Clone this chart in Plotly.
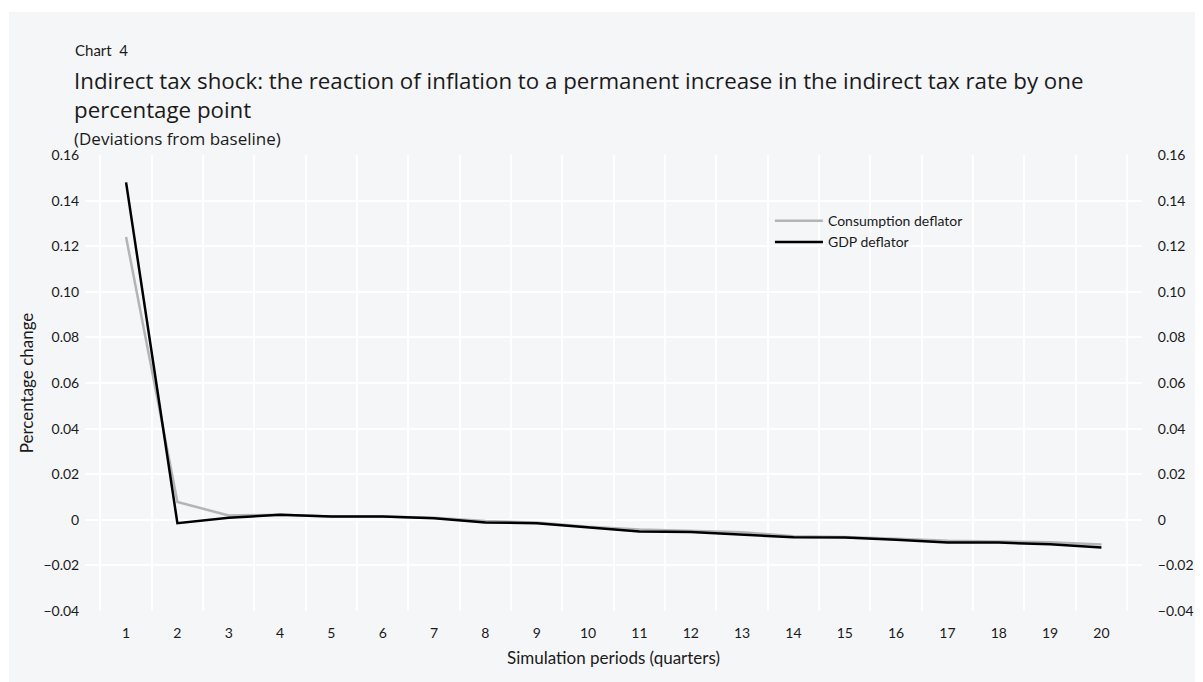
import plotly.graph_objects as go

# 데이터
periods = list(range(1, 21))
consumption_deflator = [0.124, 0.0078, 0.0019, 0.0022, 0.0015, 0.0015, 0.0009, -0.0005,
                        -0.0012, -0.0030, -0.0042, -0.0048, -0.0055, -0.0072, -0.0075,
                        -0.0083, -0.0092, -0.0095, -0.0098, -0.0108]
gdp_deflator = [0.148, -0.0015, 0.0009, 0.0022, 0.0015, 0.0015, 0.0007, -0.0012,
                -0.0015, -0.0032, -0.0051, -0.0053, -0.0066, -0.0077, -0.0078,
                -0.0087, -0.0100, -0.0100, -0.0107, -0.0122]
y_ticks = [0.16, 0.14, 0.12, 0.10, 0.08, 0.06, 0.04, 0.02, 0, -0.02, -0.04]
y_labels = ['0.16', '0.14', '0.12', '0.10', '0.08', '0.06', '0.04', '0.02', '0',
            '\u22120.02', '\u22120.04']

FONT = 'Lato'
TITLE_FONT = 'Open Sans'
PANEL = '#f5f6f8'
TXT = '#1a1a1a'
CLEAR = 'rgba(0,0,0,0)'

fig = go.Figure()
fig.add_trace(go.Scatter(x=periods, y=consumption_deflator, mode='lines',
                         name='Consumption deflator',
                         line=dict(color='#b4b4b4', width=2.5)))
fig.add_trace(go.Scatter(x=periods, y=gdp_deflator, mode='lines',
                         name='GDP deflator',
                         line=dict(color='#000000', width=2.5)))
# 오른쪽 축 (같은 범위)
fig.add_trace(go.Scatter(x=periods, y=gdp_deflator, yaxis='y2', mode='lines',
                         line=dict(width=0), showlegend=False, hoverinfo='skip',
                         opacity=0))

# 페이지 body 여백(8px)을 고려한 크기
fig.update_layout(
    width=1195, height=674,
    margin=dict(l=77, r=61, t=147, b=71),
    paper_bgcolor='white', plot_bgcolor=PANEL,
    font=dict(family=FONT, size=14, color=TXT),
    showlegend=True,
    legend=dict(x=0.648, y=0.89, xanchor='left', yanchor='top',
                bgcolor=CLEAR, font=dict(size=14),
                itemwidth=48, tracegroupgap=0),
    xaxis=dict(range=[0.2, 20.79], tickmode='array', tickvals=periods,
               showgrid=False, zeroline=False, ticks='outside', ticklen=9,
               tickcolor=CLEAR, showline=False, automargin=False,
               title=dict(text='Simulation periods (quarters)', standoff=12,
                          font=dict(size=17)),
               minor=dict(tick0=0.5, dtick=1, showgrid=True,
                          gridcolor='white', gridwidth=2)),
    yaxis=dict(range=[-0.04, 0.16], tickmode='array', tickvals=y_ticks,
               ticktext=y_labels, showgrid=True, gridcolor='white', gridwidth=2,
               zeroline=False, ticks='outside', ticklen=2,
               tickcolor=CLEAR, showline=False, automargin=False,
               title=dict(text='Percentage change', standoff=5,
                          font=dict(size=17))),
    yaxis2=dict(range=[-0.04, 0.16], tickmode='array', tickvals=y_ticks,
                ticktext=y_labels, overlaying='y', side='right',
                showgrid=False, zeroline=False, ticks='outside', ticklen=12,
                tickcolor=CLEAR, automargin=False),
)

# 회색 배경 패널
fig.add_shape(type='rect', xref='paper', yref='paper', layer='below',
              x0=-0.0719, x1=1.06, y0=-0.16, y1=1.314,
              fillcolor=PANEL, line=dict(width=0))

fig.add_annotation(text='Chart  4', xref='paper', yref='paper',
                   x=-0.0114, y=1.230, xanchor='left', yanchor='middle',
                   showarrow=False, font=dict(size=15))
fig.add_annotation(text='Indirect tax shock: the reaction of inflation to a permanent '
                        'increase in the indirect tax rate by one<br>percentage point',
                   xref='paper', yref='paper', x=-0.0125, y=1.131,
                   xanchor='left', yanchor='middle', align='left',
                   showarrow=False, font=dict(size=22.3, family=TITLE_FONT))
fig.add_annotation(text='(Deviations from baseline)', xref='paper', yref='paper',
                   x=-0.0125, y=1.036, xanchor='left', yanchor='middle',
                   showarrow=False, font=dict(size=17, family=TITLE_FONT))

fig.write_html('out.html')
